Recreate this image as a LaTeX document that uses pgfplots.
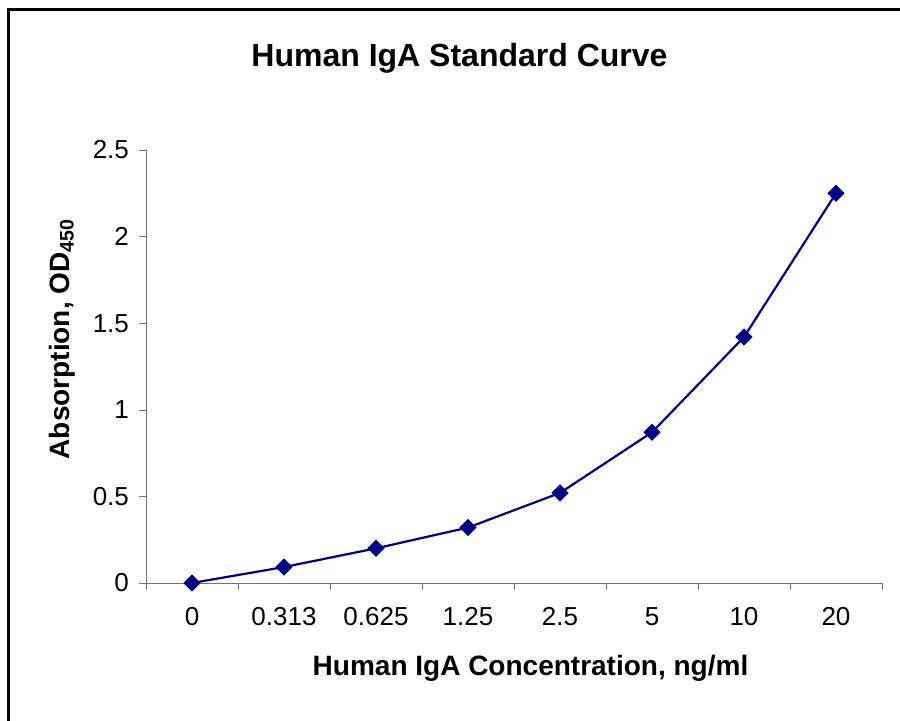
\documentclass[border=0pt]{standalone}
\usepackage{fontspec}
\setmainfont{Liberation Sans}
\usepackage{pgfplots}
\pgfplotsset{compat=1.18}
\definecolor{navyline}{HTML}{000080}
\begin{document}
\begin{tikzpicture}[x=0.5pt,y=0.5pt]
\useasboundingbox (0,0) rectangle (900,721);
\draw[line width=1.1pt] (8.5,-20) -- (8.5,711.5) -- (920,711.5);
\begin{axis}[
  at={(73pt,69pt)}, anchor=south west,
  scale only axis, width=368pt, height=216.5pt,
  xmin=-0.5, xmax=7.5, ymin=0, ymax=2.5,
  axis x line=bottom, axis y line=left,
  axis line style={black!55, -},
  tick align=outside,
  major tick length=3.5pt, minor tick length=3.5pt,
  xtick={0,1,2,3,4,5,6,7},
  xticklabels={0,0.313,0.625,1.25,2.5,5,10,20},
  minor xtick={-0.5,0.5,1.5,2.5,3.5,4.5,5.5,6.5,7.5},
  major x tick style={draw=none},
  minor x tick style={black!55},
  ytick={0,0.5,1,1.5,2,2.5},
  yticklabels={0,0.5,1,1.5,2,2.5},
  y tick style={black!55},
  ticklabel style={font=\fontsize{13}{15}\selectfont},
  xticklabel style={anchor=base, yshift=-17.8pt},
  yticklabel style={xshift=-1.5pt},
  /pgf/number format/assume math mode=true,
  clip=false,
]
\addplot[navyline, line width=1.1pt, mark=square*, mark size=2.5pt, mark options={fill=navyline, draw=navyline, rotate=45, solid}]
  coordinates {(0,0) (1,0.092) (2,0.20) (3,0.32) (4,0.52) (5,0.87) (6,1.42) (7,2.25)};
\end{axis}
\node[font=\bfseries\fontsize{16}{19}\selectfont] at (459.5,663) {Human IgA Standard Curve};
\node[font=\bfseries\fontsize{14}{17}\selectfont] at (530.5,53) {Human IgA Concentration, ng/ml};
\node[font=\bfseries\fontsize{14}{17}\selectfont, rotate=90] at (62,382) {Absorption, OD\textsubscript{450}};
\end{tikzpicture}
\end{document}
